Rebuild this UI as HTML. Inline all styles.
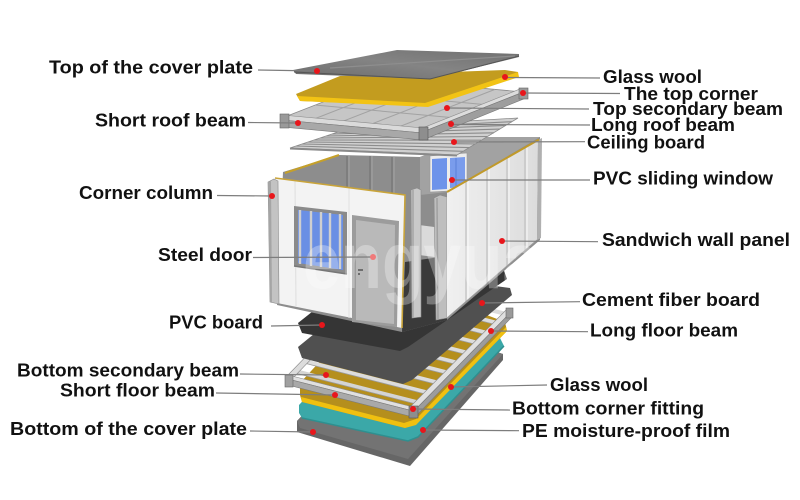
<!DOCTYPE html>
<html><head><meta charset="utf-8"><style>
html,body{margin:0;padding:0;background:#fff;}
svg{display:block;}
text{font-family:"Liberation Sans",Arial,sans-serif;font-weight:bold;font-size:18px;fill:#111;}
</style></head><body>
<svg width="800" height="500" viewBox="0 0 800 500" xmlns="http://www.w3.org/2000/svg">
<defs>
<linearGradient id="wall" x1="0" y1="0" x2="1" y2="0">
<stop offset="0" stop-color="#f0f0f0"/><stop offset="1" stop-color="#dcdcdc"/>
</linearGradient>
<linearGradient id="plate" x1="0" y1="1" x2="1" y2="0">
<stop offset="0" stop-color="#6c6c6c"/><stop offset="0.5" stop-color="#848484"/><stop offset="1" stop-color="#707070"/>
</linearGradient>
</defs>
<rect width="800" height="500" fill="#fff"/>

<!-- ===== Bottom layers ===== -->
<!-- bottom cover plate -->
<polygon points="297,421 394,318 503,354 503,360 410,466 297,432" fill="#666"/>
<polygon points="297,421 394,318 503,354 408,459 300,428" fill="#737373"/>
<!-- PE film teal -->
<polygon points="299,405 395,302 500,338 504,346 418,437 408,441 302,418 299,413" fill="#3ba8a8"/>
<polyline points="302,418 408,441 418,437 504,346" fill="none" stroke="#2f8f8f" stroke-width="1.5"/>
<!-- glass wool gold -->
<polygon points="300,383 395,280 505,322 507,331 416,424 405,428 302,402 300,395" fill="#b58f1d"/>
<polygon points="301,397 404,423 416,419 506,327 507,331 416,425 405,428 302,402" fill="#f0c010"/>

<!-- bottom frame slats -->
<g stroke-linecap="butt">
<line x1="295" y1="371" x2="420" y2="403" stroke="#d4d4d4" stroke-width="4"/>
<line x1="304" y1="361" x2="429" y2="393" stroke="#dcdcdc" stroke-width="4"/>
<line x1="314" y1="351" x2="439" y2="383" stroke="#dcdcdc" stroke-width="4"/>
<line x1="324" y1="341" x2="449" y2="373" stroke="#dcdcdc" stroke-width="4"/>
<line x1="333" y1="331" x2="458" y2="363" stroke="#dcdcdc" stroke-width="4"/>
<line x1="343" y1="321" x2="468" y2="353" stroke="#dcdcdc" stroke-width="4"/>
<line x1="353" y1="311" x2="478" y2="343" stroke="#dcdcdc" stroke-width="4"/>
<line x1="362" y1="301" x2="487" y2="333" stroke="#dcdcdc" stroke-width="4"/>
<line x1="372" y1="291" x2="497" y2="323" stroke="#dcdcdc" stroke-width="4"/>
<line x1="381" y1="282" x2="506" y2="314" stroke="#dcdcdc" stroke-width="4"/>
</g>
<g stroke="#9a9a9a" stroke-width="0.8">
<line x1="295" y1="373" x2="420" y2="405"/>
<line x1="304" y1="363" x2="429" y2="395"/>
<line x1="314" y1="353" x2="439" y2="385"/>
<line x1="324" y1="343" x2="449" y2="375"/>
<line x1="333" y1="333" x2="458" y2="365"/>
<line x1="343" y1="323" x2="468" y2="355"/>
<line x1="353" y1="313" x2="478" y2="345"/>
<line x1="362" y1="303" x2="487" y2="335"/>
<line x1="372" y1="293" x2="497" y2="325"/>
</g>
<!-- bottom frame beams -->
<polygon points="288,375 385,275 390,277 293,378" fill="#dcdcdc" stroke="#8a8a8a" stroke-width="0.6"/>
<polygon points="288,375 413,407 413,411 288,379" fill="#e0e0e0" stroke="#8a8a8a" stroke-width="0.6"/>
<polygon points="288,379 413,411 413,417 288,385" fill="#a9a9a9" stroke="#7a7a7a" stroke-width="0.6"/>
<polygon points="410,407 507,309 512,311 415,410" fill="#e0e0e0" stroke="#8a8a8a" stroke-width="0.6"/>
<polygon points="415,410 512,311 512,317 415,417" fill="#9c9c9c" stroke="#7a7a7a" stroke-width="0.6"/>
<rect x="285" y="375" width="8" height="12" fill="#a0a0a0" stroke="#666" stroke-width="0.6"/>
<rect x="409" y="406" width="9" height="12" fill="#8e8e8e" stroke="#555" stroke-width="0.6"/>
<rect x="506" y="308" width="7" height="10" fill="#9a9a9a" stroke="#666" stroke-width="0.6"/>

<!-- layer B (medium dark) -->
<polygon points="298,347 390,272 510,288 512,295 412,380 403,384 302,358" fill="#505050"/>
<!-- layer A (PVC / cement board, dark) -->
<polygon points="298,323 390,250 503,268 507,279 408,347 400,351 302,333" fill="#353535"/>

<!-- ===== Box ===== -->
<polygon points="283,172 339,155 420,157 470,137 540,137 540,240 447,320 402,332 277,305" fill="#8d8d8d"/>
<polygon points="420,157 470,137 540,137 447,192 420,195" fill="#a2a2a2"/>
<g stroke="#787878" stroke-width="1.5">
<line x1="347" y1="156" x2="347" y2="230"/>
<line x1="370" y1="156" x2="370" y2="230"/>
<line x1="392" y1="157" x2="392" y2="230"/>
</g>
<g stroke="#a5a5a5" stroke-width="1">
<line x1="349" y1="156" x2="349" y2="230"/>
<line x1="372" y1="156" x2="372" y2="230"/>
<line x1="394" y1="157" x2="394" y2="230"/>
</g>
<!-- back window -->
<polygon points="430,156 467,153 467,190 430,192" fill="#ececec" stroke="#999" stroke-width="0.6"/>
<polygon points="432,159 447,158 447,189 432,190" fill="#6d93ea"/>
<polygon points="450,158 465,157 465,187 450,188" fill="#7a9cec"/>
<line x1="456" y1="158" x2="456" y2="187" stroke="#5a7fd8" stroke-width="1"/>
<!-- interior light panel & floor -->
<polygon points="419,225 442,228 442,258 419,255" fill="#dadada"/>
<polygon points="405,262 447,256 447,320 402,332" fill="#3a3a3a"/>
<!-- columns -->
<polygon points="411,190 417,188 421,190 421,317 412,318" fill="#c9c9c9" stroke="#8a8a8a" stroke-width="0.6"/>
<line x1="413" y1="190" x2="413" y2="317" stroke="#a5a5a5" stroke-width="1.5"/>
<polygon points="434,198 440,195 447,197 447,318 436,320" fill="#bebebe" stroke="#8a8a8a" stroke-width="0.6"/>
<line x1="437" y1="198" x2="438" y2="319" stroke="#a0a0a0" stroke-width="1.5"/>
<!-- left wall top yellow -->
<line x1="285" y1="173" x2="339" y2="155" stroke="#c5a02a" stroke-width="2"/>

<!-- front wall -->
<polygon points="275,178 405,195 402,328 277,303" fill="#f3f3f3"/>
<line x1="295" y1="181" x2="296" y2="306" stroke="#dedede" stroke-width="1"/>
<line x1="349" y1="188" x2="349" y2="318" stroke="#e0e0e0" stroke-width="1"/>
<polyline points="275,178 405,195 402,328" fill="none" stroke="#c9a43a" stroke-width="1.6"/>
<!-- window -->
<polygon points="294,206 347,212 347,274 294,266" fill="#8a8a8a"/>
<polygon points="298,210 343,215 343,270 298,263" fill="#6a8fe4"/>
<g stroke="#cfcfcf" stroke-width="2.4">
<line x1="300" y1="210" x2="300" y2="264"/>
<line x1="311" y1="211" x2="311" y2="266"/>
<line x1="321" y1="212" x2="321" y2="267"/>
<line x1="330" y1="213" x2="330" y2="268"/>
<line x1="340" y1="214" x2="340" y2="269"/>
</g>
<line x1="294" y1="266" x2="347" y2="274" stroke="#777" stroke-width="1.5"/>
<!-- door -->
<polygon points="352,215 399,221 397,327 352,322" fill="#9c9c9c"/>
<polygon points="356,220 395,225 394,324 356,320" fill="#b9b9b9"/>
<line x1="358" y1="270" x2="363" y2="270" stroke="#555" stroke-width="1.5"/>
<circle cx="359" cy="274" r="1" fill="#555"/>
<!-- corner column -->
<polygon points="268,182 274,179 278,181 279,304 270,302" fill="#c3c3c3" stroke="#8a8a8a" stroke-width="0.6"/>
<polygon points="268,182 271,181 272,303 270,302" fill="#a5a5a5"/>

<!-- right wall -->
<polygon points="447,192 538,140 537,240 447,318" fill="url(#wall)"/>
<g stroke="#c6c6c6" stroke-width="1.5">
<line x1="466" y1="181" x2="466" y2="301.5"/>
<line x1="487" y1="169" x2="487" y2="283.3"/>
<line x1="507" y1="157.7" x2="507" y2="266"/>
<line x1="525" y1="147.4" x2="525" y2="250.4"/>
</g>
<g stroke="#fafafa" stroke-width="1">
<line x1="468" y1="180" x2="468" y2="300"/>
<line x1="489" y1="168" x2="489" y2="282"/>
<line x1="509" y1="156.5" x2="509" y2="264"/>
<line x1="527" y1="146.3" x2="527" y2="249"/>
</g>
<polygon points="538,140 542,138 541,238 537,240" fill="#b0b0b0"/>
<line x1="447" y1="192" x2="539" y2="139.5" stroke="#c19a2a" stroke-width="2"/>
<line x1="447" y1="318" x2="537" y2="240" stroke="#9a9a9a" stroke-width="1"/>

<!-- watermark -->
<text x="303" y="288" textLength="237" lengthAdjust="spacingAndGlyphs" style="font-size:80px;fill:#ffffff;opacity:0.3;">engyua</text>

<!-- ===== Ceiling board ===== -->
<polygon points="290,148 350,128 518,118 457,155" fill="#d0d0d0" stroke="#8a8a8a" stroke-width="0.8"/>
<g stroke="#8c8c8c" stroke-width="1.1">
<line x1="296" y1="146" x2="463" y2="151.3"/>
<line x1="302" y1="144" x2="469" y2="147.6"/>
<line x1="308" y1="142" x2="475" y2="143.9"/>
<line x1="314" y1="140" x2="481" y2="140.2"/>
<line x1="320" y1="138" x2="487" y2="136.5"/>
<line x1="326" y1="136" x2="494" y2="132.8"/>
<line x1="332" y1="134" x2="500" y2="129.1"/>
<line x1="338" y1="132" x2="506" y2="125.4"/>
<line x1="344" y1="130" x2="512" y2="121.7"/>
</g>
<line x1="290" y1="148.5" x2="457" y2="155.5" stroke="#8a8a8a" stroke-width="2"/>

<!-- ===== Top frame ===== -->
<polygon points="282,118 382,79 523,92 423,131" fill="#c6c6c6" stroke="#8a8a8a" stroke-width="0.8"/>
<g stroke="#a2a2a2" stroke-width="1">
<line x1="315" y1="105" x2="456" y2="118"/>
<line x1="348" y1="92" x2="489" y2="105"/>
<line x1="310" y1="120.6" x2="410" y2="81.6"/>
<line x1="338" y1="123.2" x2="438" y2="84.2"/>
<line x1="367" y1="125.8" x2="467" y2="86.8"/>
<line x1="395" y1="128.4" x2="495" y2="89.4"/>
</g>
<polygon points="282,115 423,128 423,133 282,120" fill="#dadada" stroke="#8a8a8a" stroke-width="0.6"/>
<polygon points="282,120 423,133 423,140 282,127" fill="#a8a8a8" stroke="#777" stroke-width="0.6"/>
<polygon points="420,129 520,89 526,91 425,131" fill="#dcdcdc" stroke="#8a8a8a" stroke-width="0.6"/>
<polygon points="425,131 526,91 526,98 425,139" fill="#9e9e9e" stroke="#777" stroke-width="0.6"/>
<rect x="280" y="114" width="9" height="14" fill="#9a9a9a" stroke="#666" stroke-width="0.6"/>
<rect x="419" y="127" width="9" height="13" fill="#8e8e8e" stroke="#555" stroke-width="0.6"/>
<rect x="519" y="88" width="9" height="11" fill="#9a9a9a" stroke="#666" stroke-width="0.6"/>

<!-- ===== Top glass wool ===== -->
<polygon points="296,94 340,76 505,70 518,72 518,76 428,106 300,101" fill="#c39c1f"/>
<polygon points="297,96 425,103 518,72 519,77 428,107 300,101" fill="#f2c314"/>

<!-- ===== Top cover plate ===== -->
<polygon points="293,70 397,50 519,54 519,57 430,79 296,74" fill="url(#plate)"/>
<line x1="330" y1="68" x2="515" y2="56" stroke="#8e8e8e" stroke-width="1.2"/>
<polyline points="294,72 430,79 519,56" fill="none" stroke="#555" stroke-width="1"/>

<!-- ===== Leader lines ===== -->
<g stroke="#7d7d7d" stroke-width="1.2">
<line x1="258" y1="70" x2="317" y2="71"/>
<line x1="248" y1="122.5" x2="298" y2="123"/>
<line x1="217" y1="195.5" x2="272" y2="196"/>
<line x1="253" y1="257.5" x2="373" y2="257"/>
<line x1="271" y1="326" x2="322" y2="325"/>
<line x1="240" y1="374" x2="326" y2="375"/>
<line x1="216" y1="393" x2="335" y2="395"/>
<line x1="250" y1="431" x2="313" y2="432"/>
<line x1="505" y1="77.5" x2="600" y2="78"/>
<line x1="523" y1="93" x2="620" y2="93.5"/>
<line x1="447" y1="108" x2="589" y2="109"/>
<line x1="451" y1="124.5" x2="590" y2="125"/>
<line x1="454" y1="142" x2="585" y2="141.7"/>
<line x1="452" y1="180" x2="590" y2="180"/>
<line x1="502" y1="241" x2="598" y2="241.7"/>
<line x1="482" y1="303" x2="580" y2="301.7"/>
<line x1="491" y1="331" x2="588" y2="331.7"/>
<line x1="451" y1="387" x2="547" y2="385"/>
<line x1="413" y1="409" x2="510" y2="410"/>
<line x1="423" y1="430" x2="519" y2="430.7"/>
</g>

<!-- ===== Red dots ===== -->
<g fill="#e8161b">
<circle cx="317" cy="71" r="3"/>
<circle cx="505" cy="77" r="3"/>
<circle cx="523" cy="93" r="3"/>
<circle cx="447" cy="108" r="3"/>
<circle cx="298" cy="123" r="3"/>
<circle cx="451" cy="124" r="3"/>
<circle cx="454" cy="142" r="3"/>
<circle cx="452" cy="180" r="3"/>
<circle cx="272" cy="196" r="3"/>
<circle cx="502" cy="241" r="3"/>
<circle cx="482" cy="303" r="3"/>
<circle cx="322" cy="325" r="3"/>
<circle cx="491" cy="331" r="3"/>
<circle cx="326" cy="375" r="3"/>
<circle cx="335" cy="395" r="3"/>
<circle cx="451" cy="387" r="3"/>
<circle cx="413" cy="409" r="3"/>
<circle cx="423" cy="430" r="3"/>
<circle cx="313" cy="432" r="3"/>
</g>
<circle cx="373" cy="257" r="3" fill="#f07a7a"/>

<!-- ===== Labels ===== -->
<text x="49" y="73.5" textLength="204" lengthAdjust="spacingAndGlyphs">Top of the cover plate</text>
<text x="95" y="126.5" textLength="151" lengthAdjust="spacingAndGlyphs">Short roof beam</text>
<text x="79" y="199" textLength="134" lengthAdjust="spacingAndGlyphs">Corner column</text>
<text x="158" y="261" textLength="94" lengthAdjust="spacingAndGlyphs">Steel door</text>
<text x="169" y="328.5" textLength="94" lengthAdjust="spacingAndGlyphs">PVC board</text>
<text x="17" y="376.5" textLength="222" lengthAdjust="spacingAndGlyphs">Bottom secondary beam</text>
<text x="60" y="396.5" textLength="155" lengthAdjust="spacingAndGlyphs">Short floor beam</text>
<text x="10" y="435" textLength="237" lengthAdjust="spacingAndGlyphs">Bottom of the cover plate</text>

<text x="603" y="83" textLength="99" lengthAdjust="spacingAndGlyphs">Glass wool</text>
<text x="624" y="100" textLength="134" lengthAdjust="spacingAndGlyphs">The top corner</text>
<text x="593" y="115" textLength="190" lengthAdjust="spacingAndGlyphs">Top secondary beam</text>
<text x="591" y="131" textLength="144" lengthAdjust="spacingAndGlyphs">Long roof beam</text>
<text x="587" y="148.5" textLength="118" lengthAdjust="spacingAndGlyphs">Ceiling board</text>
<text x="593" y="184.5" textLength="180" lengthAdjust="spacingAndGlyphs">PVC sliding window</text>
<text x="602" y="246" textLength="188" lengthAdjust="spacingAndGlyphs">Sandwich wall panel</text>
<text x="582" y="306" textLength="178" lengthAdjust="spacingAndGlyphs">Cement fiber board</text>
<text x="590" y="336.5" textLength="148" lengthAdjust="spacingAndGlyphs">Long floor beam</text>
<text x="550" y="391" textLength="98" lengthAdjust="spacingAndGlyphs">Glass wool</text>
<text x="512" y="414.5" textLength="192" lengthAdjust="spacingAndGlyphs">Bottom corner fitting</text>
<text x="522" y="437" textLength="208" lengthAdjust="spacingAndGlyphs">PE moisture-proof film</text>
</svg>
</body></html>
